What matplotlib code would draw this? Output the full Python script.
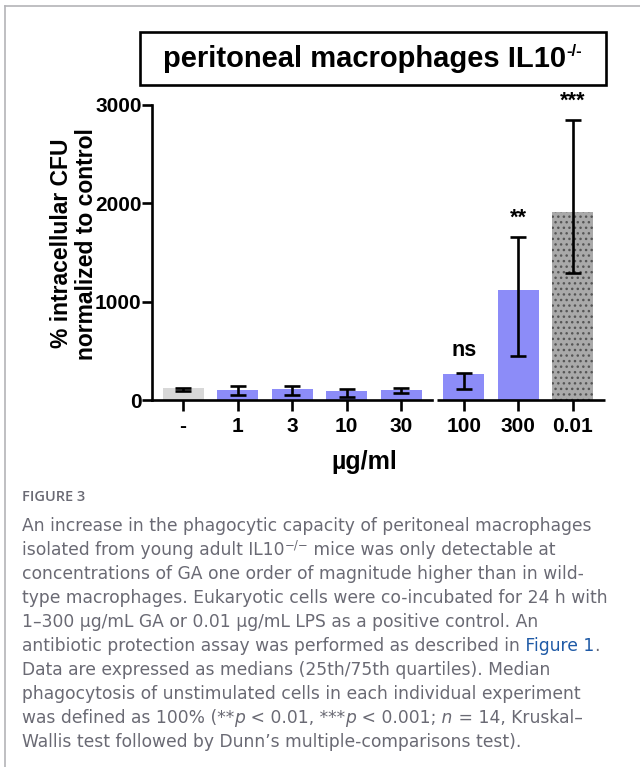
import numpy as np
import matplotlib
matplotlib.use("Agg")
import matplotlib.pyplot as plt
from matplotlib.lines import Line2D
from matplotlib.patches import Rectangle

# data (medians with 25th / 75th quartiles)
labels = ['-', '1', '3', '10', '30', '100', '300', '0.01']
median = [125, 105, 115, 90, 100, 260, 1120, 1910]
q1 = [88, 55, 55, 35, 70, 110, 450, 1290]
q3 = [125, 140, 140, 115, 120, 270, 1660, 2850]
signif = {5: 'ns', 6: '**', 7: '***'}

W, H = 640, 767
plt.rcParams['font.family'] = ['Liberation Sans', 'DejaVu Sans']
plt.rcParams['hatch.linewidth'] = 1.0
plt.rcParams['hatch.color'] = '#555555'

fig = plt.figure(figsize=(W / 100, H / 100), dpi=100)


def fx(px):
    return px / W


def fy(py):
    return 1 - py / H


ax = fig.add_axes([fx(152), fy(400), fx(605) - fx(152), fy(105) - fy(400)])

# gap between the GA concentrations and the LPS block (axis break)
x = np.arange(len(labels)) + np.where(np.arange(len(labels)) >= 5, 0.15, 0.0)
colors = ['#d8d8d8'] + ['#8c8cf8'] * 6 + ['#a9a9a9']

bars = ax.bar(x, median, width=0.75, color=colors, linewidth=0, zorder=1)
bars[-1].set_hatch('...')
bars[-1].set_edgecolor('#555555')
bars[-1].set_linewidth(0)

med = np.array(median)
err = np.vstack([med - np.array(q1), np.array(q3) - med])
ax.errorbar(x, med, yerr=err, fmt='none', ecolor='black', elinewidth=1.9,
            capsize=6, capthick=1.9, zorder=3)

offsets = {5: 9, 6: 6, 7: 6}
for i, s in signif.items():
    ax.annotate(s, (x[i], q3[i]), xytext=(0, offsets[i]), textcoords='offset points',
                ha='center', va='bottom', fontsize=15.5, fontweight='bold',
                annotation_clip=False)

ax.set_ylim(0, 3000)
ax.set_xlim(-0.57, 7.74)
ax.set_yticks([0, 1000, 2000, 3000])
ax.set_xticks(x)
ax.set_xticklabels(labels)
for lab in ax.get_xticklabels() + ax.get_yticklabels():
    lab.set_fontweight('bold')
    lab.set_fontsize(15)
ax.tick_params(axis='y', width=1.9, length=7, direction='out', pad=0.5)
ax.tick_params(axis='x', width=1.9, length=8, direction='out', pad=4)

for side in ['top', 'right']:
    ax.spines[side].set_visible(False)
ax.spines['left'].set_linewidth(1.9)
ax.spines['bottom'].set_linewidth(1.9)
ax.spines['bottom'].set_bounds(-0.57, 4.57)
ax.plot([4.66, 7.74], [0, 0], color='black', lw=1.9, clip_on=False,
        solid_capstyle='butt', zorder=4)

ax.set_xlabel('\u00b5g/ml', fontsize=18, fontweight='bold')
ax.xaxis.set_label_coords((364 - 152) / (605 - 152), -(462 - 400) / (400 - 105))
ax.xaxis.label.set_va('center')
ax.set_ylabel('% intracellular CFU\nnormalized to control', fontsize=16.5,
              fontweight='bold', linespacing=1.1)
ax.yaxis.set_label_coords(-(152 - 74) / (605 - 152), 0.53)
ax.yaxis.label.set_va('center')

# title box
fig.add_artist(Rectangle((fx(140), fy(85)), fx(606) - fx(140), fy(32) - fy(85),
                         transform=fig.transFigure, fill=False, lw=1.9,
                         edgecolor='black'))

fig.canvas.draw()
renderer = fig.canvas.get_renderer()


def draw_runs(x0, y0, runs, **kw):
    """draw text pieces one after the other starting at pixel x0, baseline y0"""
    xp = x0
    for s, extra in runs:
        opts = dict(kw)
        opts.update(extra)
        dy = opts.pop('dy', 0)
        t = fig.text(fx(xp), fy(y0 + dy), s, ha='left', va='baseline', **opts)
        bb = t.get_window_extent(renderer)
        xp += bb.width
    return xp


# title with superscript
draw_runs(163, 67, [('peritoneal macrophages IL10', {}),
                    ('-/-', {'fontsize': 12, 'dy': -11})],
          fontsize=21, fontweight='bold', color='black')

# caption
cap_color = '#6a6a74'
cap_font = ['DejaVu Sans']
fig.text(fx(22), fy(501), 'FIGURE 3', fontsize=10.5, fontweight='semibold',
         family=['Open Sans', 'DejaVu Sans'], color=cap_color, va='baseline')

it = {'style': 'italic'}
lines = [
    [('An increase in the phagocytic capacity of peritoneal macrophages', {})],
    [('isolated from young adult IL10', {}),
     ('\u2212/\u2212', {'fontsize': 8.5, 'dy': -7}),
     (' mice was only detectable at', {})],
    [('concentrations of GA one order of magnitude higher than in wild-', {})],
    [('type macrophages. Eukaryotic cells were co-incubated for 24 h with', {})],
    [('1\u2013300 \u00b5g/mL GA or 0.01 \u00b5g/mL LPS as a positive control. An', {})],
    [('antibiotic protection assay was performed as described in', {}),
     (' Figure 1', {'color': '#1f5aa6'}), ('.', {})],
    [('Data are expressed as medians (25th/75th quartiles). Median', {})],
    [('phagocytosis of unstimulated cells in each individual experiment', {})],
    [('was defined as 100% (**', {}), ('p', it), (' < 0.01, ***', {}), ('p', it),
     (' < 0.001;', {}), (' n', it), (' = 14, Kruskal\u2013', {})],
    [('Wallis test followed by Dunn\u2019s multiple-comparisons test).', {})],
]
for k, runs in enumerate(lines):
    draw_runs(22, 531 + 24 * k, runs, fontsize=12.35, family=cap_font,
              color=cap_color)

# outer frame of the figure panel
fig.add_artist(Line2D([fx(5), 1], [fy(6), fy(6)], transform=fig.transFigure,
                      color='#b4b4b8', lw=1.2))
fig.add_artist(Line2D([fx(5), fx(5)], [0, fy(6)], transform=fig.transFigure,
                      color='#b4b4b8', lw=1.2))

fig.savefig('out.png', dpi=100)
